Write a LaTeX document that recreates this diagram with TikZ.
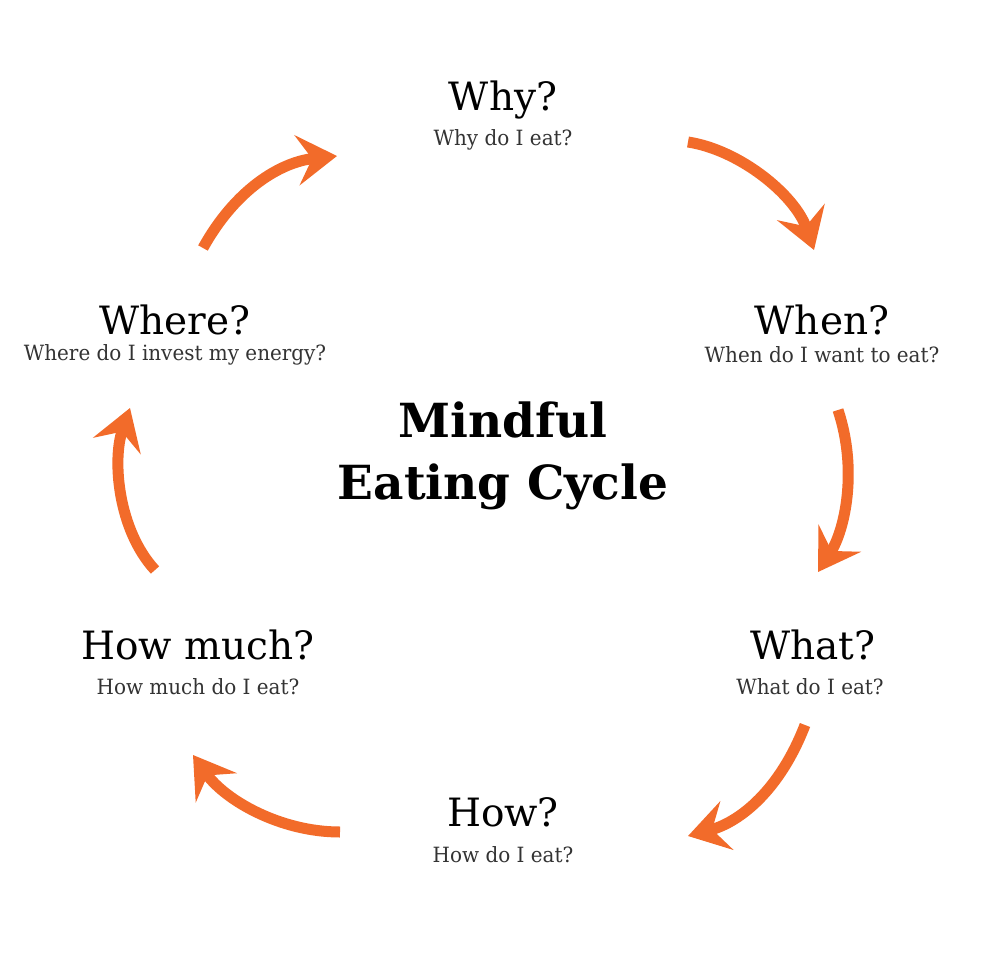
\documentclass[tikz,border=0pt]{standalone}
\usepackage{fontspec}
\setmainfont{DejaVu Serif}
\usetikzlibrary{arrows.meta}
\definecolor{orng}{HTML}{F26B2A}
\tikzset{
  head/.style={font=\fontsize{39}{40}\selectfont},
  sub/.style={font=\fontsize{21}{23}\selectfont\addfontfeature{FakeStretch=0.95}, text=black!80},
  title/.style={font=\fontsize{47}{62}\selectfont\bfseries, align=center},
  cyc/.style={draw=orng, line width=11pt, -{Stealth[length=40pt,width=50pt,inset=15pt]}}
}
\begin{document}
\begin{tikzpicture}[x=1pt,y=-1pt]
\useasboundingbox[fill=white] (0,0) rectangle (980,980);
\node[head] (why) at (503,100) {Why?};
\node[sub] (whys) at (503,140) {Why do I eat?};
\node[head] (when) at (822,320) {When?};
\node[sub] (whens) at (822,355) {When do I want to eat?};
\node[head] (where) at (175,320) {Where?};
\node[sub] (wheres) at (175,355) {Where do I invest my energy?};
\node[head] (what) at (813,645) {What?};
\node[sub] (whats) at (810,687) {What do I eat?};
\node[head] (hm) at (198,645) {How much?};
\node[sub] (hms) at (198,687) {How much do I eat?};
\node[head] (how) at (503,812) {How?};
\node[sub] (hows) at (503,855) {How do I eat?};
\node[title] (t) at (503,456) {Mindful\\Eating Cycle};
\coordinate (a1) at (203,248); \coordinate (b1) at (337,156);
\coordinate (a2) at (688,142); \coordinate (b2) at (814,250);
\coordinate (a3) at (838,410); \coordinate (b3) at (818,572);
\coordinate (a4) at (805,725); \coordinate (b4) at (688,836);
\coordinate (a5) at (340,832); \coordinate (b5) at (193,755);
\coordinate (a6) at (155,570); \coordinate (b6) at (130,408);
\draw[cyc] (a1) .. controls (235,190) and (280,162) .. (b1);
\draw[cyc] (a2) .. controls (740,150) and (795,195) .. (b2);
\draw[cyc] (a3) .. controls (858,470) and (845,530) .. (b3);
\draw[cyc] (a4) .. controls (780,790) and (740,822) .. (b4);
\draw[cyc] (a5) .. controls (280,832) and (225,800) .. (b5);
\draw[cyc] (a6) .. controls (118,530) and (112,460) .. (b6);
\end{tikzpicture}
\end{document}
